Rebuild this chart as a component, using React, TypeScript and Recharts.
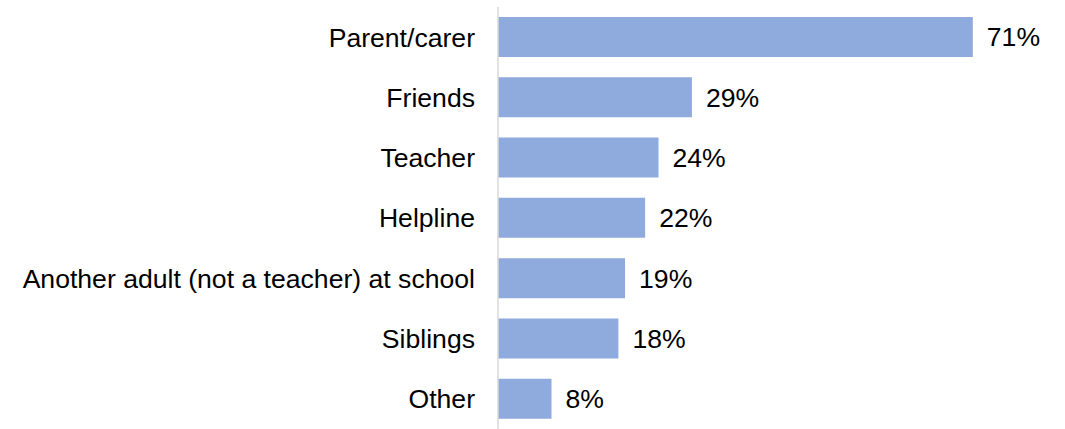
import { BarChart, Bar, XAxis, YAxis, LabelList } from "recharts";

const categories = [
  "Parent/carer",
  "Friends",
  "Teacher",
  "Helpline",
  "Another adult (not a teacher) at school",
  "Siblings",
  "Other",
];

const percentages = [71, 29, 24, 22, 19, 18, 8];

const chartData = categories.map((name, i) => ({ name, value: percentages[i] }));

const FONT = "'Liberation Sans', Arial, sans-serif";

const App = () => {
  return (
    <div style={{ position: "absolute", left: 0, top: 0, width: 1065, height: 429, background: "#fff" }}>
      <BarChart
        width={1065}
        height={429}
        data={chartData}
        layout="vertical"
        margin={{ top: 7, right: 32, bottom: 0, left: 0 }}
        barSize={40}
      >
        <XAxis type="number" domain={[0, 80]} hide />
        <YAxis
          type="category"
          dataKey="name"
          width={498}
          tickLine={false}
          tickMargin={17}
          axisLine={{ stroke: "#d9d9d9", strokeWidth: 1.5 }}
          tick={{ fill: "#000", fontSize: 26.6, fontFamily: FONT }}
          interval={0}
        />
        <Bar dataKey="value" fill="#8faadc" isAnimationActive={false}>
          <LabelList
            dataKey="value"
            position="right"
            offset={14}
            formatter={(v: number) => `${v}%`}
            style={{ fill: "#000", fontSize: 26.6, fontFamily: FONT }}
          />
        </Bar>
      </BarChart>
    </div>
  );
};

export default App;
